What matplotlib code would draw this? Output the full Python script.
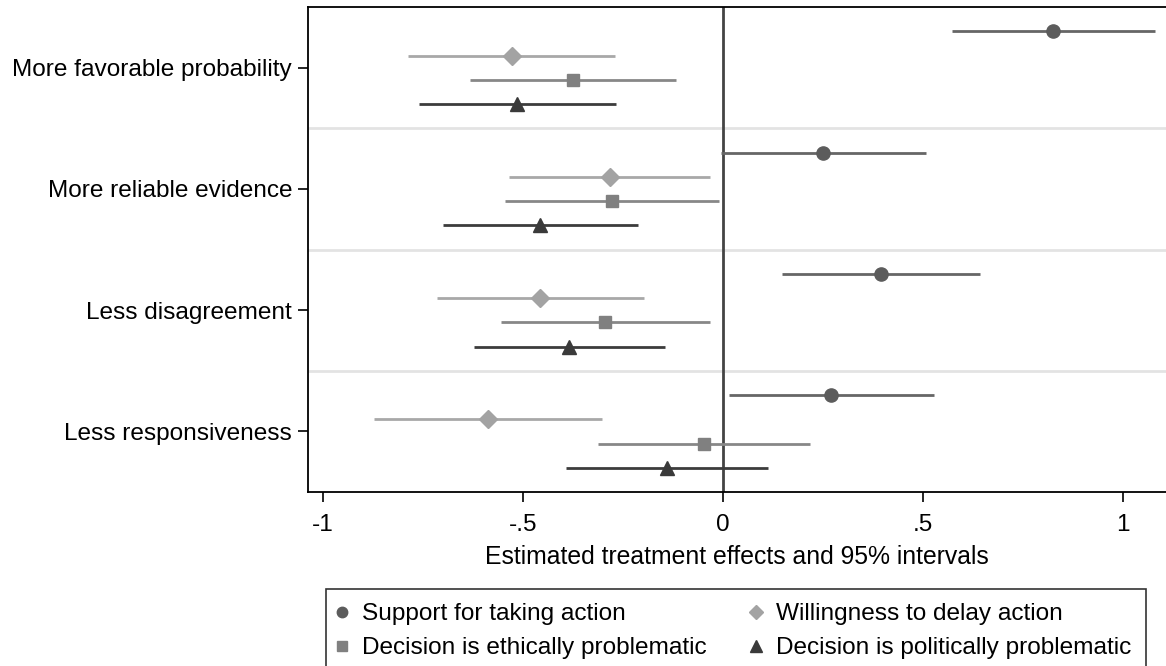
import matplotlib
matplotlib.use("Agg")
import matplotlib.pyplot as plt
from matplotlib.lines import Line2D

plt.rcParams['font.family'] = ['Liberation Sans', 'DejaVu Sans']

categories = ["More favorable probability", "More reliable evidence",
              "Less disagreement", "Less responsiveness"]
series_names = ["Support for taking action", "Willingness to delay action",
                "Decision is ethically problematic", "Decision is politically problematic"]

support_est = [0.826, 0.249, 0.395, 0.271]
support_lo = [0.573, -0.006, 0.148, 0.016]
support_hi = [1.079, 0.507, 0.643, 0.527]

delay_est = [-0.528, -0.283, -0.458, -0.588]
delay_lo = [-0.787, -0.536, -0.716, -0.872]
delay_hi = [-0.269, -0.032, -0.198, -0.303]

ethic_est = [-0.376, -0.278, -0.296, -0.048]
ethic_lo = [-0.633, -0.544, -0.556, -0.312]
ethic_hi = [-0.118, -0.010, -0.033, 0.218]

polit_est = [-0.514, -0.458, -0.384, -0.140]
polit_lo = [-0.760, -0.701, -0.622, -0.393]
polit_hi = [-0.267, -0.212, -0.146, 0.112]

xticks = [-1, -0.5, 0, 0.5, 1]
xticklabels = ["-1", "-.5", "0", ".5", "1"]

W, H = 1166, 666
fig = plt.figure(figsize=(W/100, H/100), dpi=100)
ax = fig.add_axes([308/W, 1-492/H, (1166-308)/W, (492-7)/H])

styles = [
    dict(est=support_est, lo=support_lo, hi=support_hi, off=-0.3, marker='o', ms=9.5, color='#5c5c5c', lcol='#666666'),
    dict(est=delay_est, lo=delay_lo, hi=delay_hi, off=-0.1, marker='D', ms=9.5, color='#a3a3a3', lcol='#a8a8a8'),
    dict(est=ethic_est, lo=ethic_lo, hi=ethic_hi, off=0.1, marker='s', ms=9, color='#808080', lcol='#878787'),
    dict(est=polit_est, lo=polit_lo, hi=polit_hi, off=0.3, marker='^', ms=10.5, color='#3a3a3a', lcol='#3c3c3c'),
]

for yb in [0.5, 1.5, 2.5]:
    ax.axhline(yb, color='#e3e3e3', lw=2, zorder=1)
ax.axvline(0, color='#444444', lw=2, zorder=2)

handles = []
for s in styles:
    ys = [i + s['off'] for i in range(len(categories))]
    ax.hlines(ys, s['lo'], s['hi'], color=s['lcol'], lw=2, zorder=3)
    ax.plot(s['est'], ys, linestyle='none', marker=s['marker'], ms=s['ms'],
            color=s['color'], mec=s['color'], zorder=4)
    handles.append(Line2D([], [], linestyle='none', marker=s['marker'],
                          ms=7.5 if s['marker'] != '^' else 8,
                          color=s['color'], mec=s['color']))

ax.set_xlim(-1.0375, 1.1075)
ax.set_ylim(3.5, -0.5)
ax.set_yticks(range(len(categories)))
ax.set_yticklabels(categories)
ax.set_xticks(xticks)
ax.set_xticklabels(xticklabels)
ax.tick_params(axis='both', direction='out', length=7.5, width=1.2, labelsize=17.6, colors='black')
ax.tick_params(axis='y', pad=4)
ax.tick_params(axis='x', pad=8.5)
for sp in ['left', 'bottom', 'top']:
    ax.spines[sp].set_linewidth(1.3)
    ax.spines[sp].set_color('black')
ax.spines['right'].set_visible(False)
ax.set_xlabel("Estimated treatment effects and 95% intervals", fontsize=17.8, labelpad=6)

order = [0, 2, 1, 3]
leg = fig.legend([handles[i] for i in order], [series_names[i] for i in order],
                 loc='upper left', bbox_to_anchor=(326/W, 1-589/H),
                 ncol=2, fontsize=17.6, frameon=True, fancybox=False,
                 edgecolor='black', handlelength=0.12, handletextpad=0.78,
                 labelspacing=0.48, borderpad=0.58, borderaxespad=0, columnspacing=1.95)
leg.get_frame().set_linewidth(1.2)

fig.savefig("out.png", dpi=100)
